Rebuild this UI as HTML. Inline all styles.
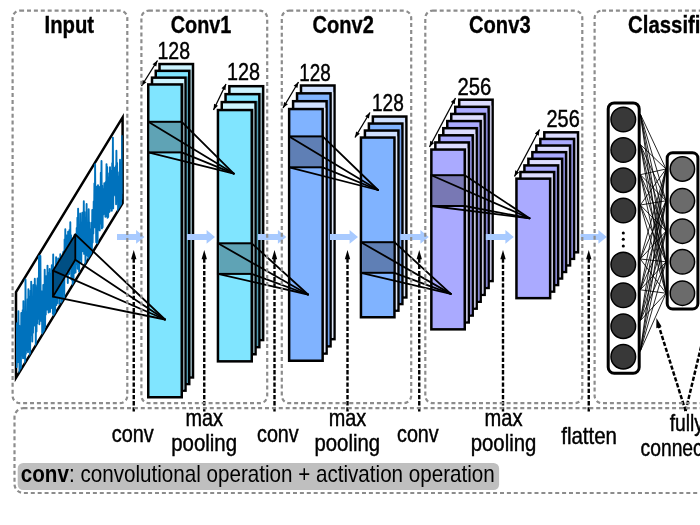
<!DOCTYPE html>
<html><head><meta charset="utf-8"><title>CNN architecture</title>
<style>html,body{margin:0;padding:0;background:#fff;}svg{display:block;}</style>
</head><body>
<svg width="700" height="525" viewBox="0 0 700 525">
<rect width="700" height="525" fill="#fff"/>
<text x="44.5" y="32.8" font-family="'Liberation Sans', sans-serif" font-size="24" font-weight="bold" textLength="49.6" lengthAdjust="spacingAndGlyphs" fill="#000" stroke="#000" stroke-width="0.35">Input</text>
<text x="170.8" y="32.8" font-family="'Liberation Sans', sans-serif" font-size="24" font-weight="bold" textLength="60.6" lengthAdjust="spacingAndGlyphs" fill="#000" stroke="#000" stroke-width="0.35">Conv1</text>
<text x="312.5" y="32.8" font-family="'Liberation Sans', sans-serif" font-size="24" font-weight="bold" textLength="61.3" lengthAdjust="spacingAndGlyphs" fill="#000" stroke="#000" stroke-width="0.35">Conv2</text>
<text x="469.0" y="32.8" font-family="'Liberation Sans', sans-serif" font-size="24" font-weight="bold" textLength="61.6" lengthAdjust="spacingAndGlyphs" fill="#000" stroke="#000" stroke-width="0.35">Conv3</text>
<text x="628.1" y="32.8" font-family="'Liberation Sans', sans-serif" font-size="24" font-weight="bold" textLength="91.6" lengthAdjust="spacingAndGlyphs" fill="#000" stroke="#000" stroke-width="0.35">Classifier</text>
<rect x="159.50" y="64.05" width="33.50" height="313.40" fill="#cdf4ff" stroke="#000" stroke-width="2.5"/>
<rect x="190.50" y="69.60" width="1.25" height="306.60" fill="#86a0a8"/>
<rect x="155.75" y="70.85" width="33.50" height="313.20" fill="#80e5ff" stroke="#000" stroke-width="2.5"/>
<rect x="186.75" y="76.40" width="1.25" height="306.40" fill="#4f9db5"/>
<rect x="152.00" y="77.65" width="33.50" height="313.00" fill="#cdf4ff" stroke="#000" stroke-width="2.5"/>
<rect x="183.00" y="83.20" width="1.25" height="306.20" fill="#86a0a8"/>
<rect x="148.25" y="84.45" width="33.50" height="312.80" fill="#80e5ff" stroke="#000" stroke-width="2.5"/>
<rect x="229.35" y="86.20" width="33.80" height="253.85" fill="#cdf4ff" stroke="#000" stroke-width="2.5"/>
<rect x="260.60" y="92.90" width="1.30" height="245.90" fill="#86a0a8"/>
<rect x="225.55" y="94.15" width="33.80" height="253.00" fill="#80e5ff" stroke="#000" stroke-width="2.5"/>
<rect x="256.80" y="100.85" width="1.30" height="245.05" fill="#4f9db5"/>
<rect x="221.75" y="102.10" width="33.80" height="252.15" fill="#cdf4ff" stroke="#000" stroke-width="2.5"/>
<rect x="253.00" y="108.80" width="1.30" height="244.20" fill="#86a0a8"/>
<rect x="217.95" y="110.05" width="33.80" height="251.30" fill="#80e5ff" stroke="#000" stroke-width="2.5"/>
<rect x="301.00" y="85.50" width="33.50" height="253.65" fill="#cfe0ff" stroke="#000" stroke-width="2.5"/>
<rect x="331.80" y="92.10" width="1.45" height="245.80" fill="#dfe6f5"/>
<rect x="297.05" y="93.35" width="33.50" height="253.00" fill="#80b3ff" stroke="#000" stroke-width="2.5"/>
<rect x="327.85" y="99.95" width="1.45" height="245.15" fill="#6f9fec"/>
<rect x="293.10" y="101.20" width="33.50" height="252.35" fill="#cfe0ff" stroke="#000" stroke-width="2.5"/>
<rect x="323.90" y="107.80" width="1.45" height="244.50" fill="#dfe6f5"/>
<rect x="289.15" y="109.05" width="33.50" height="251.70" fill="#80b3ff" stroke="#000" stroke-width="2.5"/>
<rect x="372.86" y="116.55" width="33.50" height="180.90" fill="#cfe0ff" stroke="#000" stroke-width="2.5"/>
<rect x="403.64" y="122.30" width="1.47" height="173.90" fill="#dfe6f5"/>
<rect x="368.89" y="123.55" width="33.50" height="180.50" fill="#80b3ff" stroke="#000" stroke-width="2.5"/>
<rect x="399.67" y="129.30" width="1.47" height="173.50" fill="#6f9fec"/>
<rect x="364.92" y="130.55" width="33.50" height="180.10" fill="#cfe0ff" stroke="#000" stroke-width="2.5"/>
<rect x="395.70" y="136.30" width="1.47" height="173.10" fill="#dfe6f5"/>
<rect x="360.95" y="137.55" width="33.50" height="179.70" fill="#80b3ff" stroke="#000" stroke-width="2.5"/>
<rect x="459.21" y="99.71" width="33.40" height="181.34" fill="#dcdcff" stroke="#000" stroke-width="2.5"/>
<rect x="489.88" y="105.58" width="1.48" height="174.22" fill="#c4c4dc"/>
<rect x="455.23" y="106.83" width="33.40" height="181.12" fill="#aaaaff" stroke="#000" stroke-width="2.5"/>
<rect x="485.90" y="112.70" width="1.48" height="174.00" fill="#8585d2"/>
<rect x="451.25" y="113.95" width="33.40" height="180.90" fill="#dcdcff" stroke="#000" stroke-width="2.5"/>
<rect x="481.92" y="119.82" width="1.48" height="173.78" fill="#c4c4dc"/>
<rect x="447.27" y="121.07" width="33.40" height="180.68" fill="#aaaaff" stroke="#000" stroke-width="2.5"/>
<rect x="477.94" y="126.94" width="1.48" height="173.56" fill="#8585d2"/>
<rect x="443.29" y="128.19" width="33.40" height="180.46" fill="#dcdcff" stroke="#000" stroke-width="2.5"/>
<rect x="473.96" y="134.06" width="1.48" height="173.34" fill="#c4c4dc"/>
<rect x="439.31" y="135.31" width="33.40" height="180.24" fill="#aaaaff" stroke="#000" stroke-width="2.5"/>
<rect x="469.98" y="141.18" width="1.48" height="173.12" fill="#8585d2"/>
<rect x="435.33" y="142.43" width="33.40" height="180.02" fill="#dcdcff" stroke="#000" stroke-width="2.5"/>
<rect x="466.00" y="148.30" width="1.48" height="172.90" fill="#c4c4dc"/>
<rect x="431.35" y="149.55" width="33.40" height="179.80" fill="#aaaaff" stroke="#000" stroke-width="2.5"/>
<rect x="544.31" y="132.31" width="33.70" height="119.99" fill="#dcdcff" stroke="#000" stroke-width="2.5"/>
<rect x="575.28" y="137.68" width="1.48" height="113.37" fill="#c4c4dc"/>
<rect x="540.33" y="138.93" width="33.70" height="119.92" fill="#aaaaff" stroke="#000" stroke-width="2.5"/>
<rect x="571.30" y="144.30" width="1.48" height="113.30" fill="#8585d2"/>
<rect x="536.35" y="145.55" width="33.70" height="119.85" fill="#dcdcff" stroke="#000" stroke-width="2.5"/>
<rect x="567.32" y="150.92" width="1.48" height="113.23" fill="#c4c4dc"/>
<rect x="532.37" y="152.17" width="33.70" height="119.78" fill="#aaaaff" stroke="#000" stroke-width="2.5"/>
<rect x="563.34" y="157.54" width="1.48" height="113.16" fill="#8585d2"/>
<rect x="528.39" y="158.79" width="33.70" height="119.71" fill="#dcdcff" stroke="#000" stroke-width="2.5"/>
<rect x="559.36" y="164.16" width="1.48" height="113.09" fill="#c4c4dc"/>
<rect x="524.41" y="165.41" width="33.70" height="119.64" fill="#aaaaff" stroke="#000" stroke-width="2.5"/>
<rect x="555.38" y="170.78" width="1.48" height="113.02" fill="#8585d2"/>
<rect x="520.43" y="172.03" width="33.70" height="119.57" fill="#dcdcff" stroke="#000" stroke-width="2.5"/>
<rect x="551.40" y="177.40" width="1.48" height="112.95" fill="#c4c4dc"/>
<rect x="516.45" y="178.65" width="33.70" height="119.50" fill="#aaaaff" stroke="#000" stroke-width="2.5"/>
<rect x="148.25" y="121.8" width="33.50" height="30.60" fill="#5fa3b5" stroke="#000" stroke-width="2.0"/>
<line x1="148.25" y1="121.8" x2="233.8" y2="173.6" stroke="#000" stroke-width="1.8" stroke-linecap="round"/>
<line x1="181.75" y1="121.8" x2="233.8" y2="173.6" stroke="#000" stroke-width="1.8" stroke-linecap="round"/>
<line x1="148.25" y1="152.4" x2="233.8" y2="173.6" stroke="#000" stroke-width="1.8" stroke-linecap="round"/>
<line x1="181.75" y1="152.4" x2="233.8" y2="173.6" stroke="#000" stroke-width="1.8" stroke-linecap="round"/>
<rect x="217.95" y="243.3" width="33.80" height="30.60" fill="#5fa3b5" stroke="#000" stroke-width="2.0"/>
<line x1="217.95" y1="243.3" x2="308" y2="294.5" stroke="#000" stroke-width="1.8" stroke-linecap="round"/>
<line x1="251.75" y1="243.3" x2="308" y2="294.5" stroke="#000" stroke-width="1.8" stroke-linecap="round"/>
<line x1="217.95" y1="273.9" x2="308" y2="294.5" stroke="#000" stroke-width="1.8" stroke-linecap="round"/>
<line x1="251.75" y1="273.9" x2="308" y2="294.5" stroke="#000" stroke-width="1.8" stroke-linecap="round"/>
<rect x="289.15" y="136.4" width="33.50" height="30.90" fill="#5f7fb5" stroke="#000" stroke-width="2.0"/>
<line x1="289.15" y1="136.4" x2="378" y2="190" stroke="#000" stroke-width="1.8" stroke-linecap="round"/>
<line x1="322.65" y1="136.4" x2="378" y2="190" stroke="#000" stroke-width="1.8" stroke-linecap="round"/>
<line x1="289.15" y1="167.3" x2="378" y2="190" stroke="#000" stroke-width="1.8" stroke-linecap="round"/>
<line x1="322.65" y1="167.3" x2="378" y2="190" stroke="#000" stroke-width="1.8" stroke-linecap="round"/>
<rect x="360.95" y="242.2" width="33.50" height="30.60" fill="#5f7fb5" stroke="#000" stroke-width="2.0"/>
<line x1="360.95" y1="242.2" x2="450.8" y2="293.9" stroke="#000" stroke-width="1.8" stroke-linecap="round"/>
<line x1="394.45" y1="242.2" x2="450.8" y2="293.9" stroke="#000" stroke-width="1.8" stroke-linecap="round"/>
<line x1="360.95" y1="272.8" x2="450.8" y2="293.9" stroke="#000" stroke-width="1.8" stroke-linecap="round"/>
<line x1="394.45" y1="272.8" x2="450.8" y2="293.9" stroke="#000" stroke-width="1.8" stroke-linecap="round"/>
<rect x="431.35" y="175.2" width="33.40" height="30.80" fill="#7878b4" stroke="#000" stroke-width="2.0"/>
<line x1="431.35" y1="175.2" x2="529.5" y2="218.25" stroke="#000" stroke-width="1.8" stroke-linecap="round"/>
<line x1="464.75" y1="175.2" x2="529.5" y2="218.25" stroke="#000" stroke-width="1.8" stroke-linecap="round"/>
<line x1="431.35" y1="206" x2="529.5" y2="218.25" stroke="#000" stroke-width="1.8" stroke-linecap="round"/>
<line x1="464.75" y1="206" x2="529.5" y2="218.25" stroke="#000" stroke-width="1.8" stroke-linecap="round"/>
<path d="M117,233.9 L136.1,233.9 L136.1,230.1 L144.5,236.9 L136.1,243.70000000000002 L136.1,239.9 L117,239.9 Z" fill="#a8caff"/>
<path d="M187,233.9 L206.6,233.9 L206.6,230.1 L215,236.9 L206.6,243.70000000000002 L206.6,239.9 L187,239.9 Z" fill="#a8caff"/>
<path d="M258,233.9 L277.90000000000003,233.9 L277.90000000000003,230.1 L286.3,236.9 L277.90000000000003,243.70000000000002 L277.90000000000003,239.9 L258,239.9 Z" fill="#a8caff"/>
<path d="M330,233.9 L349.6,233.9 L349.6,230.1 L358,236.9 L349.6,243.70000000000002 L349.6,239.9 L330,239.9 Z" fill="#a8caff"/>
<path d="M400.5,233.9 L420.40000000000003,233.9 L420.40000000000003,230.1 L428.8,236.9 L420.40000000000003,243.70000000000002 L420.40000000000003,239.9 L400.5,239.9 Z" fill="#a8caff"/>
<path d="M485.8,233.9 L505.4,233.9 L505.4,230.1 L513.8,236.9 L505.4,243.70000000000002 L505.4,239.9 L485.8,239.9 Z" fill="#a8caff"/>
<path d="M580.5,233.9 L598.4,233.9 L598.4,230.1 L606.8,236.9 L598.4,243.70000000000002 L598.4,239.9 L580.5,239.9 Z" fill="#a8caff"/>
<line x1="141.5" y1="86" x2="157.5" y2="60.5" stroke="#000" stroke-width="1.3"/>
<path d="M141.50,86.00 L146.43,82.25 L142.73,79.92 Z" fill="#000"/>
<path d="M157.50,60.50 L152.57,64.25 L156.27,66.58 Z" fill="#000"/>
<line x1="213.5" y1="110" x2="226" y2="84" stroke="#000" stroke-width="1.3"/>
<path d="M213.50,110.00 L217.98,105.72 L214.05,103.82 Z" fill="#000"/>
<path d="M226.00,84.00 L221.52,88.28 L225.45,90.18 Z" fill="#000"/>
<line x1="283" y1="108" x2="298.5" y2="82" stroke="#000" stroke-width="1.3"/>
<path d="M283.00,108.00 L287.85,104.13 L284.10,101.90 Z" fill="#000"/>
<path d="M298.50,82.00 L293.65,85.87 L297.40,88.10 Z" fill="#000"/>
<line x1="355" y1="137.5" x2="370" y2="112.5" stroke="#000" stroke-width="1.3"/>
<path d="M355.00,137.50 L359.86,133.65 L356.11,131.40 Z" fill="#000"/>
<path d="M370.00,112.50 L365.14,116.35 L368.89,118.60 Z" fill="#000"/>
<line x1="429.5" y1="147" x2="455.5" y2="98" stroke="#000" stroke-width="1.3"/>
<path d="M429.50,147.00 L434.15,142.90 L430.29,140.85 Z" fill="#000"/>
<path d="M455.50,98.00 L450.85,102.10 L454.71,104.15 Z" fill="#000"/>
<line x1="514.5" y1="176.5" x2="539.5" y2="129.5" stroke="#000" stroke-width="1.3"/>
<path d="M514.50,176.50 L519.15,172.40 L515.30,170.35 Z" fill="#000"/>
<path d="M539.50,129.50 L534.85,133.60 L538.70,135.65 Z" fill="#000"/>
<text x="157.5" y="58.75" font-family="'Liberation Sans', sans-serif" font-size="24" textLength="32.5" lengthAdjust="spacingAndGlyphs" fill="#000" stroke="#000" stroke-width="0.45">128</text>
<text x="227" y="80" font-family="'Liberation Sans', sans-serif" font-size="24" textLength="33" lengthAdjust="spacingAndGlyphs" fill="#000" stroke="#000" stroke-width="0.45">128</text>
<text x="299.3" y="80.5" font-family="'Liberation Sans', sans-serif" font-size="24" textLength="31.5" lengthAdjust="spacingAndGlyphs" fill="#000" stroke="#000" stroke-width="0.45">128</text>
<text x="372" y="110.75" font-family="'Liberation Sans', sans-serif" font-size="24" textLength="31.8" lengthAdjust="spacingAndGlyphs" fill="#000" stroke="#000" stroke-width="0.45">128</text>
<text x="457.5" y="95" font-family="'Liberation Sans', sans-serif" font-size="24" textLength="33.8" lengthAdjust="spacingAndGlyphs" fill="#000" stroke="#000" stroke-width="0.45">256</text>
<text x="546.5" y="127.3" font-family="'Liberation Sans', sans-serif" font-size="24" textLength="33.2" lengthAdjust="spacingAndGlyphs" fill="#000" stroke="#000" stroke-width="0.45">256</text>
<clipPath id="pc"><path d="M16,292.2 L122.6,117.4 L122.6,203.1 L16,377.8 Z"/></clipPath>
<path d="M16,292.2 L122.6,117.4 L122.6,203.1 L16,377.8 Z" fill="#fff" stroke="#000" stroke-width="2.5" stroke-linejoin="miter" stroke-miterlimit="6"/>
<path d="M16.3,332.1 L16.7,367.1 L17.0,323.1 L17.4,360.1 L17.7,324.9 L18.1,362.0 L18.4,311.2 L18.8,357.1 L19.1,325.8 L19.5,372.9 L19.9,327.4 L20.2,354.4 L20.6,326.0 L20.9,368.5 L21.3,313.0 L21.6,355.4 L22.0,324.3 L22.3,353.5 L22.7,310.1 L23.0,358.2 L23.4,301.1 L23.8,358.0 L24.1,324.2 L24.5,355.3 L24.8,313.7 L25.2,363.8 L25.5,279.5 L25.9,353.7 L26.2,321.3 L26.6,350.4 L27.0,312.9 L27.3,344.8 L27.7,299.1 L28.0,352.2 L28.4,289.1 L28.7,349.2 L29.1,296.4 L29.4,334.1 L29.8,299.2 L30.1,357.2 L30.5,290.6 L30.9,334.7 L31.2,281.6 L31.6,332.2 L31.9,304.0 L32.3,341.6 L32.6,302.0 L33.0,332.8 L33.3,284.9 L33.7,325.7 L34.0,300.7 L34.4,325.4 L34.8,278.8 L35.1,321.3 L35.5,285.3 L35.8,345.5 L36.2,287.1 L36.5,331.5 L36.9,292.0 L37.2,323.5 L37.6,278.4 L38.0,318.8 L38.3,295.0 L38.7,316.0 L39.0,255.9 L39.4,324.2 L39.7,276.6 L40.1,317.0 L40.4,255.9 L40.8,320.8 L41.2,295.0 L41.5,319.5 L41.9,291.5 L42.2,332.8 L42.6,303.7 L42.9,344.3 L43.3,285.0 L43.6,339.6 L44.0,304.7 L44.3,337.4 L44.7,269.8 L45.1,326.8 L45.4,292.5 L45.8,314.6 L46.1,276.3 L46.5,309.5 L46.8,276.4 L47.2,309.5 L47.5,265.6 L47.9,308.6 L48.2,272.7 L48.6,312.6 L49.0,275.9 L49.3,311.6 L49.7,269.0 L50.0,311.9 L50.4,284.0 L50.7,308.3 L51.1,273.6 L51.4,307.1 L51.8,265.2 L52.2,308.1 L52.5,281.1 L52.9,313.8 L53.2,254.5 L53.6,315.0 L53.9,282.5 L54.3,315.7 L54.6,267.8 L55.0,342.6 L55.3,274.2 L55.7,304.1 L56.1,257.2 L56.4,305.1 L56.8,269.7 L57.1,303.3 L57.5,264.4 L57.8,297.4 L58.2,258.4 L58.5,292.1 L58.9,269.6 L59.3,303.9 L59.6,264.8 L60.0,294.9 L60.3,254.2 L60.7,296.6 L61.0,262.5 L61.4,301.5 L61.7,257.5 L62.1,306.5 L62.5,257.0 L62.8,289.4 L63.2,252.0 L63.5,284.4 L63.9,251.2 L64.2,302.2 L64.6,239.4 L64.9,275.0 L65.3,229.2 L65.6,273.5 L66.0,243.8 L66.4,270.2 L66.7,235.5 L67.1,268.2 L67.4,243.4 L67.8,283.0 L68.1,231.8 L68.5,264.0 L68.8,242.6 L69.2,274.1 L69.5,229.9 L69.9,268.2 L70.3,222.3 L70.6,267.4 L71.0,235.1 L71.3,279.2 L71.7,240.4 L72.0,280.1 L72.4,246.4 L72.7,284.4 L73.1,238.4 L73.5,286.7 L73.8,240.8 L74.2,273.3 L74.5,234.9 L74.9,270.3 L75.2,234.6 L75.6,272.5 L75.9,234.9 L76.3,257.3 L76.7,227.9 L77.0,264.0 L77.4,217.8 L77.7,268.7 L78.1,208.6 L78.4,264.2 L78.8,228.4 L79.1,271.5 L79.5,230.3 L79.8,259.2 L80.2,213.5 L80.6,258.8 L80.9,228.4 L81.3,263.1 L81.6,222.5 L82.0,251.4 L82.3,212.8 L82.7,249.3 L83.0,213.2 L83.4,251.0 L83.8,201.2 L84.1,253.9 L84.5,211.9 L84.8,251.8 L85.2,218.1 L85.5,265.5 L85.9,228.8 L86.2,251.2 L86.6,204.0 L86.9,255.1 L87.3,224.4 L87.7,256.0 L88.0,222.6 L88.4,258.8 L88.7,209.2 L89.1,254.0 L89.4,222.5 L89.8,259.1 L90.1,229.3 L90.5,259.8 L90.8,230.2 L91.2,256.4 L91.6,222.6 L91.9,249.7 L92.3,210.0 L92.6,242.4 L93.0,213.5 L93.3,233.5 L93.7,201.4 L94.0,227.2 L94.4,183.5 L94.8,227.4 L95.1,164.1 L95.5,222.2 L95.8,186.7 L96.2,242.3 L96.5,186.7 L96.9,222.9 L97.2,191.2 L97.6,243.4 L98.0,185.1 L98.3,229.5 L98.7,193.6 L99.0,226.5 L99.4,187.0 L99.7,230.4 L100.1,186.7 L100.4,223.5 L100.8,172.7 L101.1,217.0 L101.5,161.0 L101.9,228.4 L102.2,185.6 L102.6,227.3 L102.9,194.9 L103.3,214.6 L103.6,189.0 L104.0,213.9 L104.3,183.2 L104.7,210.0 L105.0,183.7 L105.4,216.8 L105.8,181.9 L106.1,214.7 L106.5,164.1 L106.8,216.0 L107.2,166.9 L107.5,217.7 L107.9,173.3 L108.2,216.9 L108.6,177.2 L109.0,212.3 L109.3,183.6 L109.7,211.5 L110.0,167.1 L110.4,208.0 L110.7,172.3 L111.1,204.7 L111.4,170.7 L111.8,210.7 L112.2,163.3 L112.5,198.0 L112.9,137.6 L113.2,208.4 L113.6,168.5 L113.9,192.6 L114.3,167.9 L114.6,194.0 L115.0,170.8 L115.3,195.5 L115.7,166.3 L116.1,204.2 L116.4,150.7 L116.8,198.1 L117.1,163.0 L117.5,201.3 L117.8,172.2 L118.2,223.4 L118.5,176.5 L118.9,219.8 L119.2,181.0 L119.6,205.2 L120.0,159.8 L120.3,235.8 L120.7,177.2 L121.0,223.4 L121.4,167.9 L121.7,199.0 L122.1,135.9 L122.4,193.0 L122.8,168.1" fill="none" stroke="#0072bd" stroke-width="1.9" stroke-linejoin="round" clip-path="url(#pc)"/>
<path d="M53,270.7 L75.3,234.4 L75.3,259.7 L53,296.6 Z" fill="#000" fill-opacity="0.3" stroke="#000" stroke-width="1.8" stroke-linejoin="round"/>
<line x1="53" y1="270.7" x2="165" y2="319.5" stroke="#000" stroke-width="1.8" stroke-linecap="round"/>
<line x1="75.3" y1="234.4" x2="165" y2="319.5" stroke="#000" stroke-width="1.8" stroke-linecap="round"/>
<line x1="75.3" y1="259.7" x2="165" y2="319.5" stroke="#000" stroke-width="1.8" stroke-linecap="round"/>
<line x1="53" y1="296.6" x2="165" y2="319.5" stroke="#000" stroke-width="1.8" stroke-linecap="round"/>
<line x1="133.75" y1="258.5" x2="133.75" y2="411.6" stroke="#000" stroke-width="2.4" stroke-dasharray="4.3 1.9"/>
<path d="M133.75,250 L136.45,259.3 L131.05,259.3 Z" fill="#000"/>
<line x1="204.25" y1="258.5" x2="204.25" y2="411.6" stroke="#000" stroke-width="2.4" stroke-dasharray="4.3 1.9"/>
<path d="M204.25,250 L206.95,259.3 L201.55,259.3 Z" fill="#000"/>
<line x1="274.5" y1="258.5" x2="274.5" y2="411.6" stroke="#000" stroke-width="2.4" stroke-dasharray="4.3 1.9"/>
<path d="M274.5,250 L277.2,259.3 L271.8,259.3 Z" fill="#000"/>
<line x1="347.5" y1="258.5" x2="347.5" y2="411.6" stroke="#000" stroke-width="2.4" stroke-dasharray="4.3 1.9"/>
<path d="M347.5,250 L350.2,259.3 L344.8,259.3 Z" fill="#000"/>
<line x1="419.25" y1="258.5" x2="419.25" y2="411.6" stroke="#000" stroke-width="2.4" stroke-dasharray="4.3 1.9"/>
<path d="M419.25,250 L421.95,259.3 L416.55,259.3 Z" fill="#000"/>
<line x1="503" y1="258.5" x2="503" y2="411.6" stroke="#000" stroke-width="2.4" stroke-dasharray="4.3 1.9"/>
<path d="M503,250 L505.7,259.3 L500.3,259.3 Z" fill="#000"/>
<line x1="588.75" y1="258.5" x2="588.75" y2="411.6" stroke="#000" stroke-width="2.4" stroke-dasharray="4.3 1.9"/>
<path d="M588.75,250 L591.45,259.3 L586.05,259.3 Z" fill="#000"/>
<line x1="640.3" y1="114.0" x2="666" y2="169" stroke="#000" stroke-width="0.85"/>
<line x1="640.3" y1="114.0" x2="666" y2="200.8" stroke="#000" stroke-width="0.85"/>
<line x1="640.3" y1="114.0" x2="666" y2="231.2" stroke="#000" stroke-width="0.85"/>
<line x1="640.3" y1="114.0" x2="666" y2="261.8" stroke="#000" stroke-width="0.85"/>
<line x1="640.3" y1="114.0" x2="666" y2="293.2" stroke="#000" stroke-width="0.85"/>
<line x1="640.3" y1="144.5" x2="666" y2="169" stroke="#000" stroke-width="0.85"/>
<line x1="640.3" y1="144.5" x2="666" y2="200.8" stroke="#000" stroke-width="0.85"/>
<line x1="640.3" y1="144.5" x2="666" y2="231.2" stroke="#000" stroke-width="0.85"/>
<line x1="640.3" y1="144.5" x2="666" y2="261.8" stroke="#000" stroke-width="0.85"/>
<line x1="640.3" y1="144.5" x2="666" y2="293.2" stroke="#000" stroke-width="0.85"/>
<line x1="640.3" y1="174.7" x2="666" y2="169" stroke="#000" stroke-width="0.85"/>
<line x1="640.3" y1="174.7" x2="666" y2="200.8" stroke="#000" stroke-width="0.85"/>
<line x1="640.3" y1="174.7" x2="666" y2="231.2" stroke="#000" stroke-width="0.85"/>
<line x1="640.3" y1="174.7" x2="666" y2="261.8" stroke="#000" stroke-width="0.85"/>
<line x1="640.3" y1="174.7" x2="666" y2="293.2" stroke="#000" stroke-width="0.85"/>
<line x1="640.3" y1="205.0" x2="666" y2="169" stroke="#000" stroke-width="0.85"/>
<line x1="640.3" y1="205.0" x2="666" y2="200.8" stroke="#000" stroke-width="0.85"/>
<line x1="640.3" y1="205.0" x2="666" y2="231.2" stroke="#000" stroke-width="0.85"/>
<line x1="640.3" y1="205.0" x2="666" y2="261.8" stroke="#000" stroke-width="0.85"/>
<line x1="640.3" y1="205.0" x2="666" y2="293.2" stroke="#000" stroke-width="0.85"/>
<line x1="640.3" y1="259.0" x2="666" y2="169" stroke="#000" stroke-width="0.85"/>
<line x1="640.3" y1="259.0" x2="666" y2="200.8" stroke="#000" stroke-width="0.85"/>
<line x1="640.3" y1="259.0" x2="666" y2="231.2" stroke="#000" stroke-width="0.85"/>
<line x1="640.3" y1="259.0" x2="666" y2="261.8" stroke="#000" stroke-width="0.85"/>
<line x1="640.3" y1="259.0" x2="666" y2="293.2" stroke="#000" stroke-width="0.85"/>
<line x1="640.3" y1="289.8" x2="666" y2="169" stroke="#000" stroke-width="0.85"/>
<line x1="640.3" y1="289.8" x2="666" y2="200.8" stroke="#000" stroke-width="0.85"/>
<line x1="640.3" y1="289.8" x2="666" y2="231.2" stroke="#000" stroke-width="0.85"/>
<line x1="640.3" y1="289.8" x2="666" y2="261.8" stroke="#000" stroke-width="0.85"/>
<line x1="640.3" y1="289.8" x2="666" y2="293.2" stroke="#000" stroke-width="0.85"/>
<line x1="640.3" y1="320.7" x2="666" y2="169" stroke="#000" stroke-width="0.85"/>
<line x1="640.3" y1="320.7" x2="666" y2="200.8" stroke="#000" stroke-width="0.85"/>
<line x1="640.3" y1="320.7" x2="666" y2="231.2" stroke="#000" stroke-width="0.85"/>
<line x1="640.3" y1="320.7" x2="666" y2="261.8" stroke="#000" stroke-width="0.85"/>
<line x1="640.3" y1="320.7" x2="666" y2="293.2" stroke="#000" stroke-width="0.85"/>
<line x1="640.3" y1="351.2" x2="666" y2="169" stroke="#000" stroke-width="0.85"/>
<line x1="640.3" y1="351.2" x2="666" y2="200.8" stroke="#000" stroke-width="0.85"/>
<line x1="640.3" y1="351.2" x2="666" y2="231.2" stroke="#000" stroke-width="0.85"/>
<line x1="640.3" y1="351.2" x2="666" y2="261.8" stroke="#000" stroke-width="0.85"/>
<line x1="640.3" y1="351.2" x2="666" y2="293.2" stroke="#000" stroke-width="0.85"/>
<rect x="608.2" y="102.9" width="31" height="270.4" rx="6" ry="6" fill="none" stroke="#000" stroke-width="3"/>
<rect x="667.2" y="152.8" width="30.7" height="156.3" rx="5.5" ry="5.5" fill="none" stroke="#000" stroke-width="3"/>
<circle cx="623.3" cy="119.5" r="12.3" fill="#383838" stroke="#000" stroke-width="1.5"/>
<circle cx="623.3" cy="150" r="12.3" fill="#383838" stroke="#000" stroke-width="1.5"/>
<circle cx="623.3" cy="180.2" r="12.3" fill="#383838" stroke="#000" stroke-width="1.5"/>
<circle cx="623.3" cy="210.5" r="12.3" fill="#383838" stroke="#000" stroke-width="1.5"/>
<circle cx="623.3" cy="264.5" r="12.3" fill="#383838" stroke="#000" stroke-width="1.5"/>
<circle cx="623.3" cy="295.3" r="12.3" fill="#383838" stroke="#000" stroke-width="1.5"/>
<circle cx="623.3" cy="326.2" r="12.3" fill="#383838" stroke="#000" stroke-width="1.5"/>
<circle cx="623.3" cy="356.7" r="12.3" fill="#383838" stroke="#000" stroke-width="1.5"/>
<circle cx="682.4" cy="169" r="12.2" fill="#6b6b6b" stroke="#000" stroke-width="1.5"/>
<circle cx="682.4" cy="200.8" r="12.2" fill="#6b6b6b" stroke="#000" stroke-width="1.5"/>
<circle cx="682.4" cy="231.2" r="12.2" fill="#6b6b6b" stroke="#000" stroke-width="1.5"/>
<circle cx="682.4" cy="261.8" r="12.2" fill="#6b6b6b" stroke="#000" stroke-width="1.5"/>
<circle cx="682.4" cy="293.2" r="12.2" fill="#6b6b6b" stroke="#000" stroke-width="1.5"/>
<circle cx="623.3" cy="233" r="1.55" fill="#000"/>
<circle cx="623.3" cy="239.3" r="1.55" fill="#000"/>
<circle cx="623.3" cy="246" r="1.55" fill="#000"/>
<line x1="685.6" y1="411" x2="658.8" y2="326" stroke="#000" stroke-width="2.5" stroke-dasharray="4.3 1.9"/>
<path d="M656.4,318 L661.6,326.6 L656.3,328.3 Z" fill="#000"/>
<line x1="685.6" y1="411" x2="708" y2="318" stroke="#000" stroke-width="2.5" stroke-dasharray="4.3 1.9"/>
<text x="111.75" y="441.5" font-family="'Liberation Sans', sans-serif" font-size="24" textLength="42.0" lengthAdjust="spacingAndGlyphs" fill="#000" stroke="#000" stroke-width="0.45">conv</text>
<text x="185.5" y="426" font-family="'Liberation Sans', sans-serif" font-size="24" textLength="37.5" lengthAdjust="spacingAndGlyphs" fill="#000" stroke="#000" stroke-width="0.45">max</text>
<text x="171.25" y="451" font-family="'Liberation Sans', sans-serif" font-size="24" textLength="65.75" lengthAdjust="spacingAndGlyphs" fill="#000" stroke="#000" stroke-width="0.45">pooling</text>
<text x="257" y="441.5" font-family="'Liberation Sans', sans-serif" font-size="24" textLength="41.75" lengthAdjust="spacingAndGlyphs" fill="#000" stroke="#000" stroke-width="0.45">conv</text>
<text x="328.75" y="426" font-family="'Liberation Sans', sans-serif" font-size="24" textLength="37.5" lengthAdjust="spacingAndGlyphs" fill="#000" stroke="#000" stroke-width="0.45">max</text>
<text x="314.5" y="451" font-family="'Liberation Sans', sans-serif" font-size="24" textLength="65.5" lengthAdjust="spacingAndGlyphs" fill="#000" stroke="#000" stroke-width="0.45">pooling</text>
<text x="397" y="441.5" font-family="'Liberation Sans', sans-serif" font-size="24" textLength="41.75" lengthAdjust="spacingAndGlyphs" fill="#000" stroke="#000" stroke-width="0.45">conv</text>
<text x="484.5" y="426" font-family="'Liberation Sans', sans-serif" font-size="24" textLength="38.0" lengthAdjust="spacingAndGlyphs" fill="#000" stroke="#000" stroke-width="0.45">max</text>
<text x="470.75" y="451" font-family="'Liberation Sans', sans-serif" font-size="24" textLength="65.5" lengthAdjust="spacingAndGlyphs" fill="#000" stroke="#000" stroke-width="0.45">pooling</text>
<text x="561.2" y="444" font-family="'Liberation Sans', sans-serif" font-size="24" textLength="55.8" lengthAdjust="spacingAndGlyphs" fill="#000" stroke="#000" stroke-width="0.45">flatten</text>
<text x="669.7" y="430.9" font-family="'Liberation Sans', sans-serif" font-size="24" textLength="34.3" lengthAdjust="spacingAndGlyphs" fill="#000" stroke="#000" stroke-width="0.45">fully</text>
<text x="640.6" y="456.3" font-family="'Liberation Sans', sans-serif" font-size="24" textLength="88.9" lengthAdjust="spacingAndGlyphs" fill="#000" stroke="#000" stroke-width="0.45">connected</text>
<rect x="17.7" y="463" width="481.4" height="27" rx="5.5" ry="5.5" fill="#bfbfbf"/>
<text x="20.8" y="482.3" font-family="'Liberation Sans', sans-serif" font-size="24" textLength="474" lengthAdjust="spacingAndGlyphs" fill="#000"><tspan font-weight="bold">conv</tspan>: convolutional operation + activation operation</text>
<rect x="12.6" y="10.6" width="114.7" height="392.59999999999997" rx="7.5" ry="7.5" fill="none" stroke="#8c8c8c" stroke-width="2.2" stroke-dasharray="4 2.9"/>
<rect x="141.4" y="10.6" width="125.79999999999998" height="392.59999999999997" rx="7.5" ry="7.5" fill="none" stroke="#8c8c8c" stroke-width="2.2" stroke-dasharray="4 2.9"/>
<rect x="281.8" y="10.6" width="129.39999999999998" height="392.59999999999997" rx="7.5" ry="7.5" fill="none" stroke="#8c8c8c" stroke-width="2.2" stroke-dasharray="4 2.9"/>
<rect x="425.3" y="10.6" width="156.99999999999994" height="392.59999999999997" rx="7.5" ry="7.5" fill="none" stroke="#8c8c8c" stroke-width="2.2" stroke-dasharray="4 2.9"/>
<rect x="594.6" y="10.6" width="165.39999999999998" height="392.59999999999997" rx="7.5" ry="7.5" fill="none" stroke="#8c8c8c" stroke-width="2.2" stroke-dasharray="4 2.9"/>
<rect x="14.5" y="408.1" width="745.5" height="84.89999999999998" rx="9" ry="9" fill="none" stroke="#8c8c8c" stroke-width="2.2" stroke-dasharray="4 2.9"/>
</svg>
</body></html>
